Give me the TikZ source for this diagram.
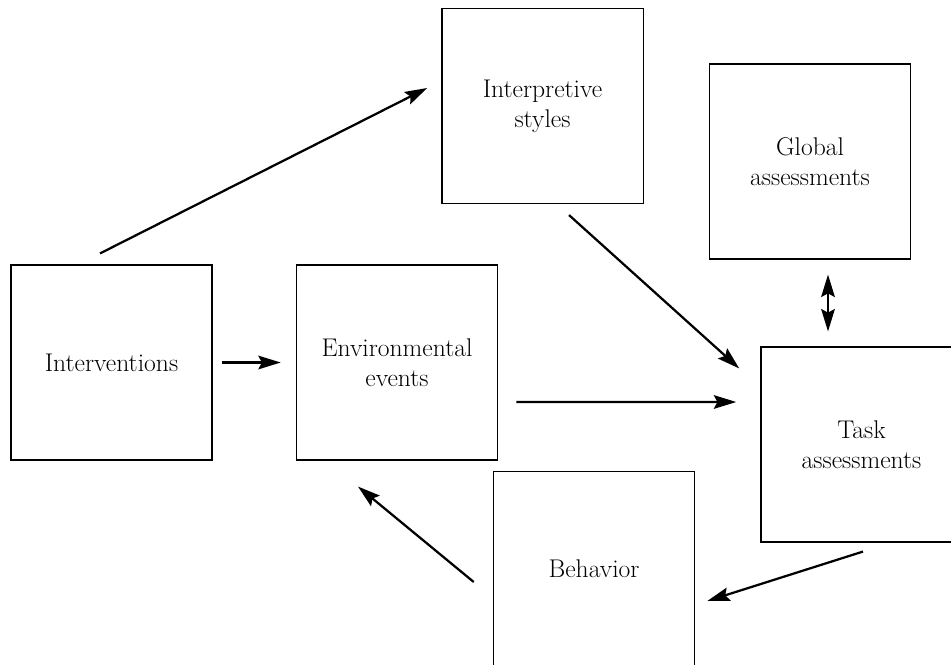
\documentclass[tikz,border=0pt]{standalone}
\usepackage{tikz}
\usetikzlibrary{arrows.meta,calc}
\tikzset{
  >={Stealth[length=5.6mm,width=3.4mm,inset=0.9mm]},
  % rutor
  bx/.style={draw=black,fill=white,line width=0.9pt,inner sep=0pt,
             minimum width=5.03cm,minimum height=4.87cm,align=center,
             font=\fontsize{18.2}{21.3}\selectfont},
  % pilar
  pil/.style={->,draw=black,line width=1.6pt},
  dpil/.style={<->,draw=black,line width=1.6pt},
}
\begin{document}
\begin{tikzpicture}[x=0.025cm,y=-0.025cm]
\useasboundingbox (0,0) rectangle (951,664);
  \node[bx] (int) at (111.5,362.5) {Interventions};
  \node[bx] (env) at (397,362.5) {Environmental\\events};
  \node[bx] (interp) at (542.5,106) {Interpretive\\styles};
  \node[bx] (glob) at (810,161.5) {Global\\assessments};
  \node[bx] (task) at (861.5,444.5) {Task\\assessments};
  \node[bx] (beh) at (594,569) {Behavior};
  \draw[pil] ($(int.north)+(-11.5,-11)$) -- ($(interp.west)+(-14,-18)$);
  \draw[pil] ($(int.east)+(9,0)$) -- ($(env.west)+(-15,0)$);
  \draw[pil] ($(env.east)+(18,39.5)$) -- ($(task.west)+(-24,-42.5)$);
  \draw[pil] ($(interp.south)+(26.5,11)$) -- ($(task.north west)+(-21,22)$);
  \draw[dpil] ($(glob.south)+(18,15)$) -- ($(task.north)+(-33.5,-15)$);
  \draw[pil] ($(task.south)+(1.5,9)$) -- ($(beh.east)+(12,32)$);
  \draw[pil] ($(beh.west)+(-19,13)$) -- ($(env.south)+(-39,26)$);
\end{tikzpicture}
\end{document}
